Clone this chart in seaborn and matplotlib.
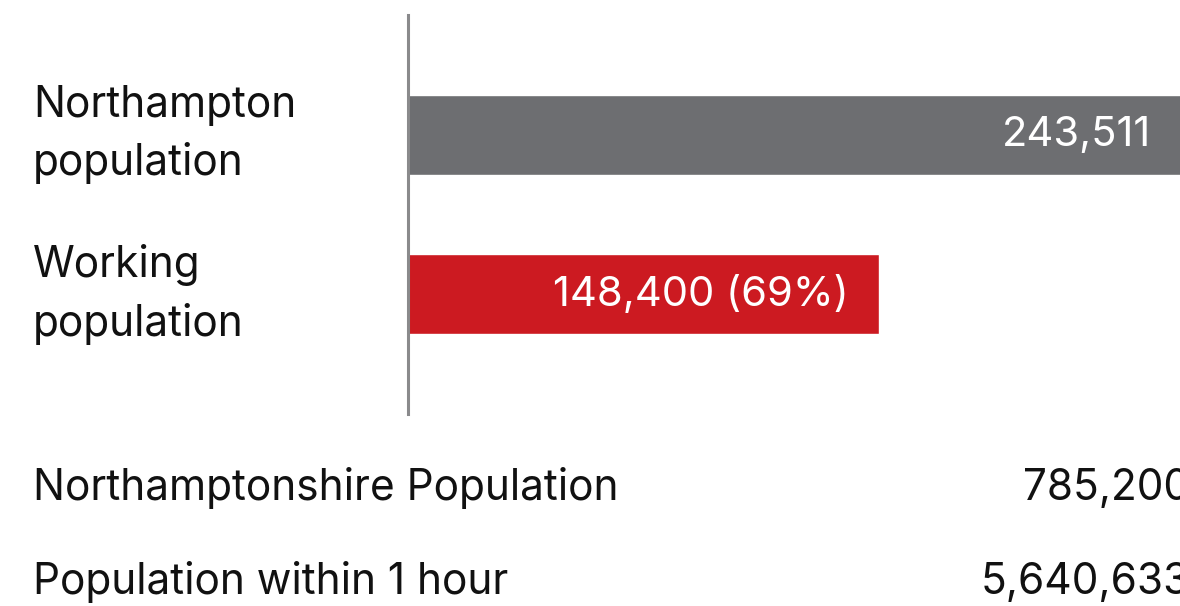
import matplotlib
matplotlib.use('Agg')
import matplotlib.pyplot as plt
import matplotlib.transforms as mtransforms
import pandas as pd
import seaborn as sns

# data
categories = ['Northampton\npopulation', 'Working\npopulation']
values = [243511, 148400]
value_labels = ['243,511', '148,400 (69%)']
bar_colors = ['#6d6e71', '#cc1a21']

extra_labels = ['Northamptonshire Population', 'Population within 1 hour']
extra_values = ['785,200', '5,640,633']

sns.set_theme(style='white')
plt.rcParams['font.family'] = ['Inter', 'DejaVu Sans']

W, H = 1180, 606
fig = plt.figure(figsize=(W / 100, H / 100), dpi=100)
ax = fig.add_axes([408 / W, 1 - 414 / H, 1 - 408 / W, (414 - 15) / H])

df = pd.DataFrame({'cat': categories, 'val': values})
sns.barplot(data=df, x='val', y='cat', hue='cat', palette=bar_colors,
            orient='h', width=0.5, legend=False, ax=ax, saturation=1)

ax.set_xlim(0, 243200)
ax.set_ylim(1.75, -0.75)
ax.set_xlabel('')
ax.set_ylabel('')
ax.set_xticks([])
ax.set_yticks([])
for s in ['top', 'right', 'bottom']:
    ax.spines[s].set_visible(False)
ax.spines['left'].set_color('#8a8a8c')
ax.spines['left'].set_linewidth(2.2)
ax.spines['left'].set_zorder(5)

# category labels at the left edge of the figure
trans = mtransforms.blended_transform_factory(fig.transFigure, ax.transData)
for i, lab in enumerate(categories):
    ax.text(33 / W, i, lab, transform=trans, ha='left', va='center',
            fontsize=30.5, color='#111111', linespacing=1.5, clip_on=False)

# value labels inside the bars
for i, (v, lab) in enumerate(zip(values, value_labels)):
    ax.annotate(lab, (v, i), xytext=(-30, 0), textcoords='offset pixels',
                ha='right', va='center', fontsize=30, color='white',
                annotation_clip=False)

# extra rows below the chart
for lab, val, y in zip(extra_labels, extra_values, [488, 582]):
    fig.text(33 / W, 1 - y / H, lab, ha='left', va='center',
             fontsize=30.5, color='#111111')
    fig.text(1190 / W, 1 - y / H, val, ha='right', va='center',
             fontsize=30.5, color='#111111')

fig.savefig('out.png', dpi=100, facecolor='white')
